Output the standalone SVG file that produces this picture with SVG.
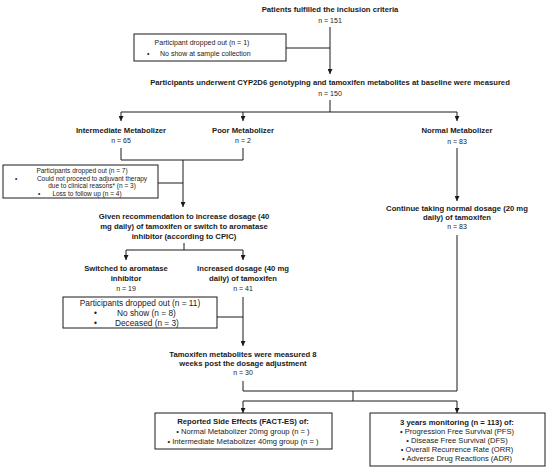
<svg xmlns="http://www.w3.org/2000/svg" width="550" height="472" viewBox="0 0 550 472">
<defs>
<marker id="ah" viewBox="0 0 10 10" refX="10" refY="5" markerWidth="5" markerHeight="5" orient="auto" markerUnits="userSpaceOnUse">
<path d="M0,0 L10,5 L0,10 z" fill="#1a1a1a"/>
</marker>
<style>
text{font-family:"Liberation Sans",Arial,sans-serif;fill:#1a1a1a}
.b{font-weight:bold;font-size:7.7px;text-anchor:middle}
.n{font-size:7px;text-anchor:middle}
.s1{font-size:7px}
.s{font-size:6.5px}
.m{font-size:8.3px}
.r{font-size:7.6px;text-anchor:middle}
.c{text-anchor:middle}
.box{fill:#fff;stroke:#1a1a1a;stroke-width:1}
.ln{fill:none;stroke:#1a1a1a;stroke-width:1}
.ar{fill:none;stroke:#1a1a1a;stroke-width:1;marker-end:url(#ah)}
</style>
</defs>
<rect width="550" height="472" fill="#fff"/>
<g id="connectors">
<line class="ar" x1="330" y1="27" x2="330" y2="74"/>
<line class="ln" x1="286" y1="48" x2="330" y2="48"/>
<line class="ln" x1="330" y1="100" x2="330" y2="112"/>
<line class="ln" x1="121" y1="112" x2="457" y2="112"/>
<line class="ar" x1="121" y1="112" x2="121" y2="121"/>
<line class="ar" x1="243" y1="112" x2="243" y2="121"/>
<line class="ar" x1="457" y1="112" x2="457" y2="121"/>
<polyline class="ln" points="121,148 121,160 243,160 243,148"/>
<line class="ar" x1="183" y1="160" x2="183" y2="207"/>
<line class="ln" x1="158" y1="183" x2="183" y2="183"/>
<line class="ar" x1="457" y1="148" x2="457" y2="201"/>
<line class="ln" x1="184" y1="243" x2="184" y2="250"/>
<line class="ln" x1="126" y1="250" x2="243" y2="250"/>
<line class="ar" x1="126" y1="250" x2="126" y2="260"/>
<line class="ar" x1="243" y1="250" x2="243" y2="260"/>
<line class="ar" x1="243" y1="297" x2="243" y2="346"/>
<line class="ln" x1="217" y1="317" x2="243" y2="317"/>
<polyline class="ln" points="243,381 243,391 457,391 457,235"/>
<line class="ln" x1="353" y1="391" x2="353" y2="401"/>
<line class="ln" x1="243" y1="401" x2="457" y2="401"/>
<line class="ar" x1="243" y1="401" x2="243" y2="413"/>
<line class="ar" x1="457" y1="401" x2="457" y2="413"/>
</g>
<g id="inclusion">
<text class="b" x="330" y="12">Patients fulfilled the inclusion criteria</text>
<text class="n" x="330" y="23">n = 151</text>
</g>
<g id="dropout1">
<rect class="box" x="134" y="34" width="152" height="27"/>
<text class="s1 c" x="202" y="45">Participant dropped out (n = 1)</text>
<text class="s1" x="147" y="56">•</text>
<text class="s1" x="160" y="56">No show at sample collection</text>
</g>
<g id="baseline">
<text class="b" x="330" y="85">Participants underwent CYP2D6 genotyping and tamoxifen metabolites at baseline were measured</text>
<text class="n" x="330" y="96">n = 150</text>
</g>
<g id="intermediate">
<text class="b" x="121" y="133">Intermediate Metabolizer</text>
<text class="n" x="121" y="143">n = 65</text>
</g>
<g id="poor">
<text class="b" x="243" y="133">Poor Metabolizer</text>
<text class="n" x="243" y="143">n = 2</text>
</g>
<g id="normal">
<text class="b" x="457" y="133">Normal Metabolizer</text>
<text class="n" x="457" y="144">n = 83</text>
</g>
<g id="dropout2">
<rect class="box" x="3" y="165" width="155" height="33"/>
<text class="s c" x="82" y="173">Participants dropped out (n = 7)</text>
<text class="s" x="15" y="180.5">•</text>
<text class="s c" x="92" y="180.5">Could not proceed to adjuvant therapy</text>
<text class="s c" x="92" y="188">due to clinical reasons* (n = 3)</text>
<text class="s" x="38" y="195.5">•</text>
<text class="s c" x="87" y="195.5">Loss to follow up (n = 4)</text>
</g>
<g id="recommendation">
<text class="b" x="184" y="219">Given recommendation to increase dosage (40</text>
<text class="b" x="184" y="229">mg daily) of tamoxifen or switch to aromatase</text>
<text class="b" x="184" y="239">inhibitor (according to CPIC)</text>
</g>
<g id="continue">
<text class="b" x="457" y="211">Continue taking normal dosage (20 mg</text>
<text class="b" x="457" y="220">daily) of tamoxifen</text>
<text class="n" x="457" y="229">n = 83</text>
</g>
<g id="switched">
<text class="b" x="126" y="271">Switched to aromatase</text>
<text class="b" x="126" y="281">inhibitor</text>
<text class="n" x="126" y="291">n = 19</text>
</g>
<g id="increased">
<text class="b" x="243" y="271">Increased dosage (40 mg</text>
<text class="b" x="243" y="281">daily) of tamoxifen</text>
<text class="n" x="243" y="291">n = 41</text>
</g>
<g id="dropout3">
<rect class="box" x="63" y="297" width="154" height="31"/>
<text class="m c" x="140" y="305.5">Participants dropped out (n = 11)</text>
<text class="m" x="94" y="315.5">•</text>
<text class="m" x="117" y="315.5">No show (n = 8)</text>
<text class="m" x="94" y="325.5">•</text>
<text class="m" x="115" y="325.5">Deceased (n = 3)</text>
</g>
<g id="measured">
<text class="b" x="243" y="357">Tamoxifen metabolites were measured 8</text>
<text class="b" x="243" y="366">weeks post the dosage adjustment</text>
<text class="n" x="243" y="375">n = 30</text>
</g>
<g id="sideeffects">
<rect class="box" x="155" y="413" width="177" height="36"/>
<text class="b" x="243" y="424">Reported Side Effects (FACT-ES) of:</text>
<text class="r" x="243" y="434">•  Normal Metabolizer 20mg group (n = )</text>
<text class="r" x="243" y="444">•  Intermediate Metabolizer 40mg group (n = )</text>
</g>
<g id="monitoring">
<rect class="box" x="370" y="413" width="175" height="53"/>
<text class="b" x="457" y="425">3 years monitoring (n = 113) of:</text>
<text class="r" x="457" y="434">•  Progression Free Survival (PFS)</text>
<text class="r" x="457" y="443">•  Disease Free Survival (DFS)</text>
<text class="r" x="457" y="452">•  Overall Recurrence Rate (ORR)</text>
<text class="r" x="457" y="461">•  Adverse Drug Reactions (ADR)</text>
</g>
</svg>
